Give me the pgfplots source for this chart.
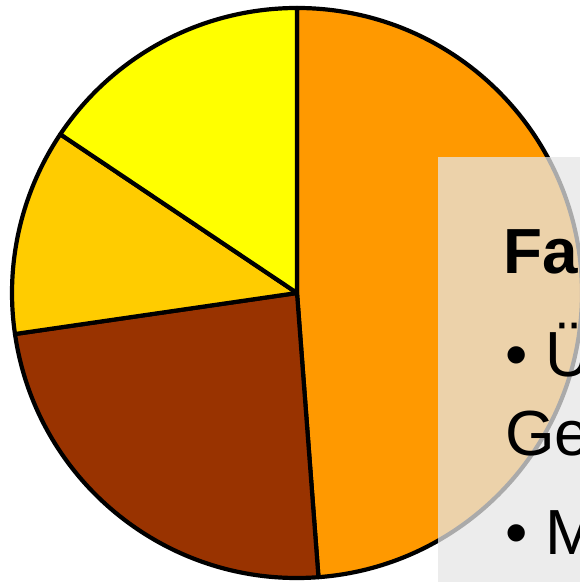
\documentclass[border=0pt]{standalone}
\usepackage{pgfplots}
\usepackage{pgfplotstable}
\pgfplotsset{compat=1.18}
\usepackage{fontspec}
\setmainfont{Liberation Sans}
\definecolor{sliceA}{HTML}{FF9900}
\definecolor{sliceB}{HTML}{993300}
\definecolor{sliceC}{HTML}{FFCC00}
\definecolor{sliceD}{HTML}{FFFF00}
\definecolor{boxgray}{HTML}{E6E6E6}
\pgfplotstableread{
label value color
A 48.8 sliceA
B 23.9 sliceB
C 11.7 sliceC
D 15.6 sliceD
}\piedata
\begin{document}
\begin{tikzpicture}[x=1bp,y=1bp]
\begin{scope}
\clip (0,0) rectangle (580,582);
\fill[white] (0,0) rectangle (580,582);
\begin{axis}[at={(297bp,289bp)}, anchor=origin, x=285bp, y=285bp,
  hide axis, xmin=-1, xmax=1, ymin=-1, ymax=1, clip=false]
\pgfplotstablegetrowsof{\piedata}
\pgfmathtruncatemacro\N{\pgfplotsretval-1}
\def\cum{0}
\pgfplotsforeachungrouped \i in {0,...,\N}{%
  \pgfplotstablegetelem{\i}{value}\of\piedata \let\v\pgfplotsretval
  \pgfplotstablegetelem{\i}{color}\of\piedata \let\c\pgfplotsretval
  \pgfmathsetmacro\a{90-3.6*\cum}%
  \pgfmathsetmacro\b{90-3.6*(\cum+\v)}%
  \edef\temp{\noexpand\filldraw[fill=\c, draw=black, line width=4.2bp, line join=round] (0,0) -- ({cos(\a)},{sin(\a)}) arc[start angle=\a, end angle=\b, radius=285bp] -- cycle;}%
  \temp
  \pgfmathsetmacro\cum{\cum+\v}%
}
\end{axis}
\fill[boxgray, opacity=0.74] (438,0) rectangle (600,425);
\fontsize{64}{77}\selectfont
\node[anchor=base west, inner sep=0pt] at (503,308) {\bfseries Fa};
\node[anchor=base west, inner sep=0pt] at (505,205) {• Ü};
\node[anchor=base west, inner sep=0pt] at (505,126) {Ge};
\node[anchor=base west, inner sep=0pt] at (505,27) {• M};
\end{scope}
\pgfresetboundingbox
\useasboundingbox (0,0) rectangle (580,582);
\end{tikzpicture}
\end{document}
